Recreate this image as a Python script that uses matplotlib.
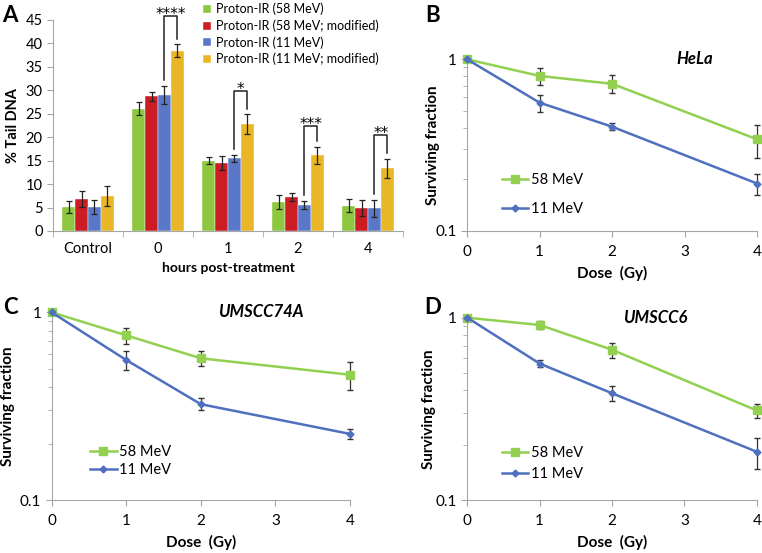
import numpy as np
import matplotlib
matplotlib.use('Agg')
import matplotlib.pyplot as plt
from matplotlib.ticker import FixedLocator, NullFormatter

plt.rcParams['font.family'] = ['Lato', 'DejaVu Sans']
plt.rcParams['font.size'] = 10

# ---- panel A data (comet assay, % tail DNA)
groups = ['Control', '0', '1', '2', '4']
bar_labels = ['Proton-IR (58 MeV)', 'Proton-IR (58 MeV; modified)',
              'Proton-IR (11 MeV)', 'Proton-IR (11 MeV; modified)']
bar_colors = ['#8dc63f', '#cc1c24', '#5b78c8', '#e8b626']
tail = [[5.2, 26.1, 15.0, 6.1, 5.4],
        [6.8, 28.7, 14.5, 7.3, 5.0],
        [5.1, 29.0, 15.5, 5.5, 4.8],
        [7.5, 38.4, 22.8, 16.1, 13.4]]
tail_err = [[1.3, 1.4, 0.8, 1.5, 1.4],
            [1.7, 1.0, 1.5, 0.9, 1.7],
            [1.5, 2.0, 0.8, 0.9, 1.85],
            [2.1, 1.4, 2.1, 1.8, 2.0]]
sig_groups = [1, 2, 3, 4]
sig_stars = ['****', '*', '***', '**']
sig_top = [45.9, 29.9, 22.4, 20.5]

# ---- survival curves
dose = [0, 1, 2, 4]
hela_58 = [1.0, 0.80, 0.72, 0.342]
hela_58_err = [0.0, 0.09, 0.085, 0.075]
hela_11 = [1.0, 0.559, 0.405, 0.189]
hela_11_err = [0.0, 0.063, 0.018, 0.027]
um74_58 = [1.0, 0.754, 0.569, 0.465]
um74_58_err = [0.0, 0.075, 0.05, 0.08]
um74_11 = [1.0, 0.557, 0.324, 0.225]
um74_11_err = [0.0, 0.065, 0.024, 0.014]
um6_58 = [1.0, 0.912, 0.667, 0.31]
um6_58_err = [0.0, 0.05, 0.063, 0.027]
um6_11 = [1.0, 0.56, 0.385, 0.184]
um6_11_err = [0.0, 0.025, 0.037, 0.036]

green_line = '#92d050'
blue_line = '#4f6fbf'
gray = '#a6a6a6'

fig = plt.figure(figsize=(7.62, 5.53), dpi=100)

# ================= panel A
ax = fig.add_axes([0.0696, 0.5823, 0.4593, 0.3816])
x = np.arange(len(groups))
w = 0.183
for i in range(4):
    ax.bar(x + (i - 1.5) * w, tail[i], w, color=bar_colors[i],
           label=bar_labels[i], edgecolor='white', linewidth=0.3,
           yerr=tail_err[i], error_kw=dict(ecolor='#222222', elinewidth=0.9,
                                            capsize=2.5, capthick=0.9))
for g, s, top in zip(sig_groups, sig_stars, sig_top):
    xl = g + 0.5 * w
    xr = g + 1.5 * w
    yl = tail[2][g] + tail_err[2][g] + 1.2
    yr = tail[3][g] + tail_err[3][g] + 1.2
    ax.plot([xl, xl, xr, xr], [yl, top, top, yr], color='#222222', lw=1.1,
            clip_on=False)
    ax.annotate(s, ((xl + xr) / 2, top), xytext=(0, -2.3),
                textcoords='offset points', ha='center', va='baseline',
                fontsize=11, family='DejaVu Sans', annotation_clip=False)
ax.set_xlim(-0.5, 4.5)
ax.set_ylim(0, 45)
ax.set_yticks(range(0, 46, 5))
ax.set_xticks(x)
ax.set_xticklabels(groups)
ax.xaxis.set_minor_locator(FixedLocator(np.arange(-0.5, 4.6, 1)))
ax.tick_params(axis='x', which='major', length=0, pad=8, labelsize=10.5)
ax.tick_params(axis='x', which='minor', length=4, color=gray)
ax.tick_params(axis='y', length=4, color=gray, labelsize=10.5)
for sp in ['top', 'right']:
    ax.spines[sp].set_visible(False)
for sp in ['left', 'bottom']:
    ax.spines[sp].set_color(gray)
ax.set_ylabel('% Tail DNA', fontweight='bold', fontsize=10.5, labelpad=4)
ax.set_xlabel('hours post-treatment', fontweight='bold', fontsize=10,
              labelpad=4)
ax.legend(loc='upper left', bbox_to_anchor=(0.415, 1.105), frameon=False,
          handlelength=0.6, handleheight=0.6, handletextpad=0.4,
          labelspacing=0.33, borderaxespad=0, fontsize=9)


def survival(rect, y58, e58, y11, e11, name, name_x, label_x, leg_anchor,
             leg_sp):
    a = fig.add_axes(rect)
    a.errorbar(dose, y58, yerr=e58, color=green_line, lw=1.8, marker='s',
               ms=6, ecolor='#333333', elinewidth=0.9, capsize=2.5,
               label='58 MeV', zorder=3, clip_on=False)
    a.errorbar(dose, y11, yerr=e11, color=blue_line, lw=1.8, marker='D',
               ms=3.5, ecolor='#333333', elinewidth=0.9, capsize=2.5,
               label='11 MeV', zorder=3, clip_on=False)
    a.set_yscale('log')
    a.set_ylim(0.1, 1)
    a.set_xlim(0, 4)
    a.set_xticks([0, 1, 2, 3, 4])
    a.set_yticks([0.1, 1])
    a.set_yticklabels(['0.1', '1'])
    a.yaxis.set_minor_locator(FixedLocator(np.arange(0.2, 1.0, 0.1)))
    a.yaxis.set_minor_formatter(NullFormatter())
    a.tick_params(axis='both', which='major', length=4, color=gray,
                  labelsize=11)
    a.tick_params(axis='x', pad=6)
    a.tick_params(axis='y', which='minor', length=3, color=gray)
    for sp in ['top', 'right']:
        a.spines[sp].set_visible(False)
    for sp in ['left', 'bottom']:
        a.spines[sp].set_color(gray)
    a.set_ylabel('Surviving fraction', fontweight='bold', fontsize=11)
    a.yaxis.set_label_coords(label_x, 0.5)
    a.set_xlabel('Dose  (Gy)', fontweight='bold', fontsize=11, labelpad=5)
    a.text(name_x, 1.0, name, transform=a.transAxes, ha='center',
           va='center', fontsize=12, fontweight='bold', style='italic')
    h, l = a.get_legend_handles_labels()
    h = [hh[0] for hh in h]
    a.legend(h, l, loc='upper left', bbox_to_anchor=leg_anchor,
             frameon=False, handlelength=1.8, handletextpad=0.2,
             labelspacing=leg_sp, borderaxespad=0, fontsize=10.5)
    return a


survival([0.6129, 0.5823, 0.3806, 0.3105], hela_58, hela_58_err,
         hela_11, hela_11_err, 'HeLa', 0.786, -0.093, (0.1, 0.37), 1.0)
survival([0.0678, 0.0958, 0.3915, 0.3394], um74_58, um74_58_err,
         um74_11, um74_11_err, 'UMSCC74A', 0.70, -0.123, (0.11, 0.325), 0.3)
survival([0.6133, 0.0958, 0.3798, 0.3297], um6_58, um6_58_err,
         um6_11, um6_11_err, 'UMSCC6', 0.65, -0.108, (0.1, 0.33), 0.5)

for lab, px, py in [('A', 10, 15), ('B', 433, 15), ('C', 10, 307), ('D', 433, 307)]:
    fig.text(px / 762, 1 - py / 553, lab, fontsize=16, fontweight='bold',
             ha='center', va='center')

fig.savefig('out.png', dpi=100)
